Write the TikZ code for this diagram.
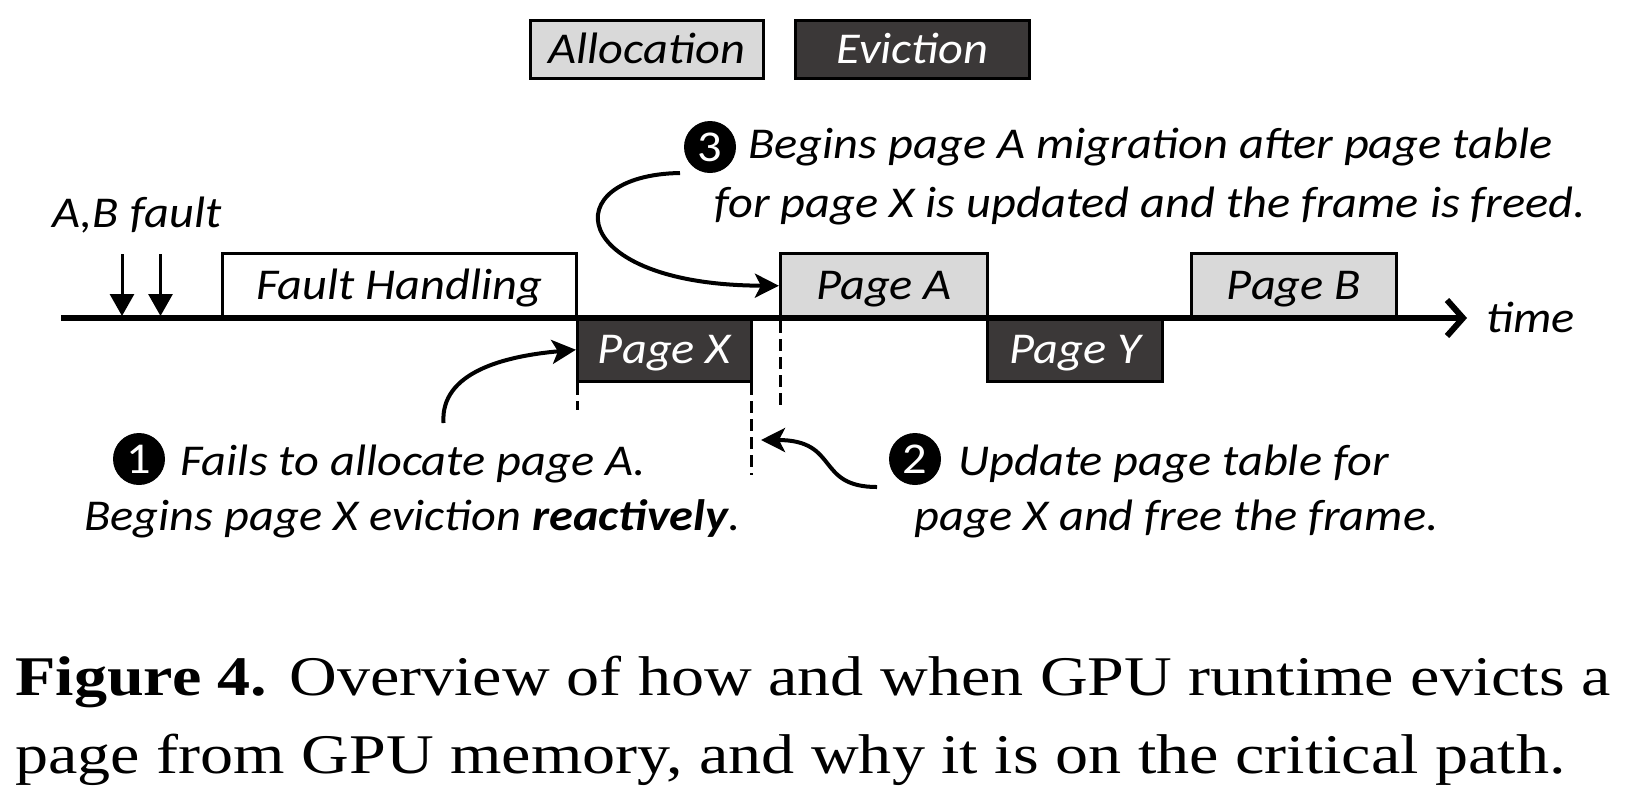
\documentclass[tikz,border=0pt]{standalone}
\usepackage{fontspec}
\setmainfont[FakeStretch=1.18]{Liberation Serif}
\newfontfamily\diag[FakeStretch=1.1]{Carlito}
\usetikzlibrary{arrows.meta}
\definecolor{lightbox}{RGB}{217,217,217}
\definecolor{darkbox}{RGB}{59,56,56}
\begin{document}
\begin{tikzpicture}[x=0.5pt,y=-0.5pt,
  lbl/.style={font=\diag\itshape\fontsize{22}{26}\selectfont, inner sep=0pt, anchor=base west},
  boxbase/.style={draw=black, line width=1.6pt, inner sep=0pt, text height=13.5pt, text depth=0pt,
     font=\diag\itshape\fontsize{22}{26}\selectfont},
  allocbox/.style={boxbase, fill=lightbox},
  evictbox/.style={boxbase, fill=darkbox, text=white},
  plainbox/.style={boxbase, fill=white},
  numcirc/.style={circle, fill=black, text=white, inner sep=0pt, minimum size=26pt,
     font=\diag\fontsize{22}{26}\selectfont},
  axisline/.style={line width=3pt, -{Straight Barb[length=8pt,width=18pt,line width=3pt]}},
  faultarrow/.style={line width=1.5pt, -{Triangle[length=11pt,width=12pt]}},
  callout/.style={line width=2pt, -{Stealth[length=12pt,width=12pt,inset=3pt]}},
  dashline/.style={line width=1.3pt, dash pattern=on 6pt off 3pt},
  caption/.style={font=\fontsize{28}{34}\selectfont, inner sep=0pt, anchor=base west}
]
\useasboundingbox (0,0) rectangle (1625,804);

% legend
\node[allocbox, minimum width=116.3pt, minimum height=28.8pt] (leg1) at (647,49.5) {Allocation};
\node[evictbox, minimum width=116.8pt, minimum height=28.8pt] (leg2) at (912.5,49.5) {Eviction};

% timeline boxes
\node[plainbox, minimum width=177pt, minimum height=32.25pt] (fh) at (399.5,285.75) {Fault Handling};
\node[allocbox, minimum width=103.5pt, minimum height=32.25pt] (pa) at (884,285.75) {Page A};
\node[allocbox, minimum width=102.5pt, minimum height=32.25pt] (pb) at (1294,285.75) {Page B};
\node[evictbox, minimum width=87pt, minimum height=31.75pt] (px) at (664.5,349.75) {Page X};
\node[evictbox, minimum width=87.5pt, minimum height=31.75pt] (py) at (1075,349.75) {Page Y};

% axis
\coordinate (ax0) at (61,318);
\coordinate (ax1) at (1467,318);
\draw[axisline] (ax0) -- (ax1);
\node[lbl] (time) at (1486,332) {time};

% fault arrows
\node[lbl] (abf) at (52,227) {A,B fault};
\coordinate (f1s) at (122,254); \coordinate (f1e) at (122,316);
\coordinate (f2s) at (160.5,254); \coordinate (f2e) at (160.5,316);
\draw[faultarrow] (f1s) -- (f1e);
\draw[faultarrow] (f2s) -- (f2e);

% dashed markers
\coordinate (d1s) at (577.5,383); \coordinate (d1e) at (577.5,410);
\coordinate (d2s) at (751.5,383); \coordinate (d2e) at (751.5,475);
\coordinate (d3s) at (780.5,321); \coordinate (d3e) at (780.5,410);
\draw[dashline] (d1s) -- (d1e);
\draw[dashline] (d2s) -- (d2e);
\draw[dashline] (d3s) -- (d3e);

% annotation 3
\node[numcirc] (c3) at (710,147) {3};
\node[lbl] (t3a) at (748,158) {Begins page A migration after page table};
\node[lbl] (t3b) at (714,217) {for page X is updated and the frame is freed.};
\coordinate (a3s) at (680,173);
\draw[callout] (a3s) .. controls (555,175) and (565,285) .. (pa.west);

% annotation 1
\node[numcirc] (c1) at (139,459) {1};
\node[lbl] (t1a) at (180,475) {Fails to allocate page A.};
\node[lbl] (t1b) at (84,530) {Begins page X eviction \textbf{reactively}.};
\coordinate (a1s) at (443.5,423);
\draw[callout] (a1s) .. controls (440,372) and (505,356) .. (px.west);

% annotation 2
\node[numcirc] (c2) at (915,459) {2};
\node[lbl] (t2a) at (958,475) {Update page table for};
\node[lbl] (t2b) at (914,530) {page X and free the frame.};
\coordinate (a2s) at (877,487);
\coordinate (a2e) at (761,440);
\draw[callout] (a2s) .. controls (815,487) and (840,440) .. (a2e);

% caption
\node[caption] (cap1) at (15,695) {\textbf{Figure 4.} Overview of how and when GPU runtime evicts a};
\node[caption] (cap2) at (15,773) {page from GPU memory, and why it is on the critical path.};
\end{tikzpicture}
\end{document}
